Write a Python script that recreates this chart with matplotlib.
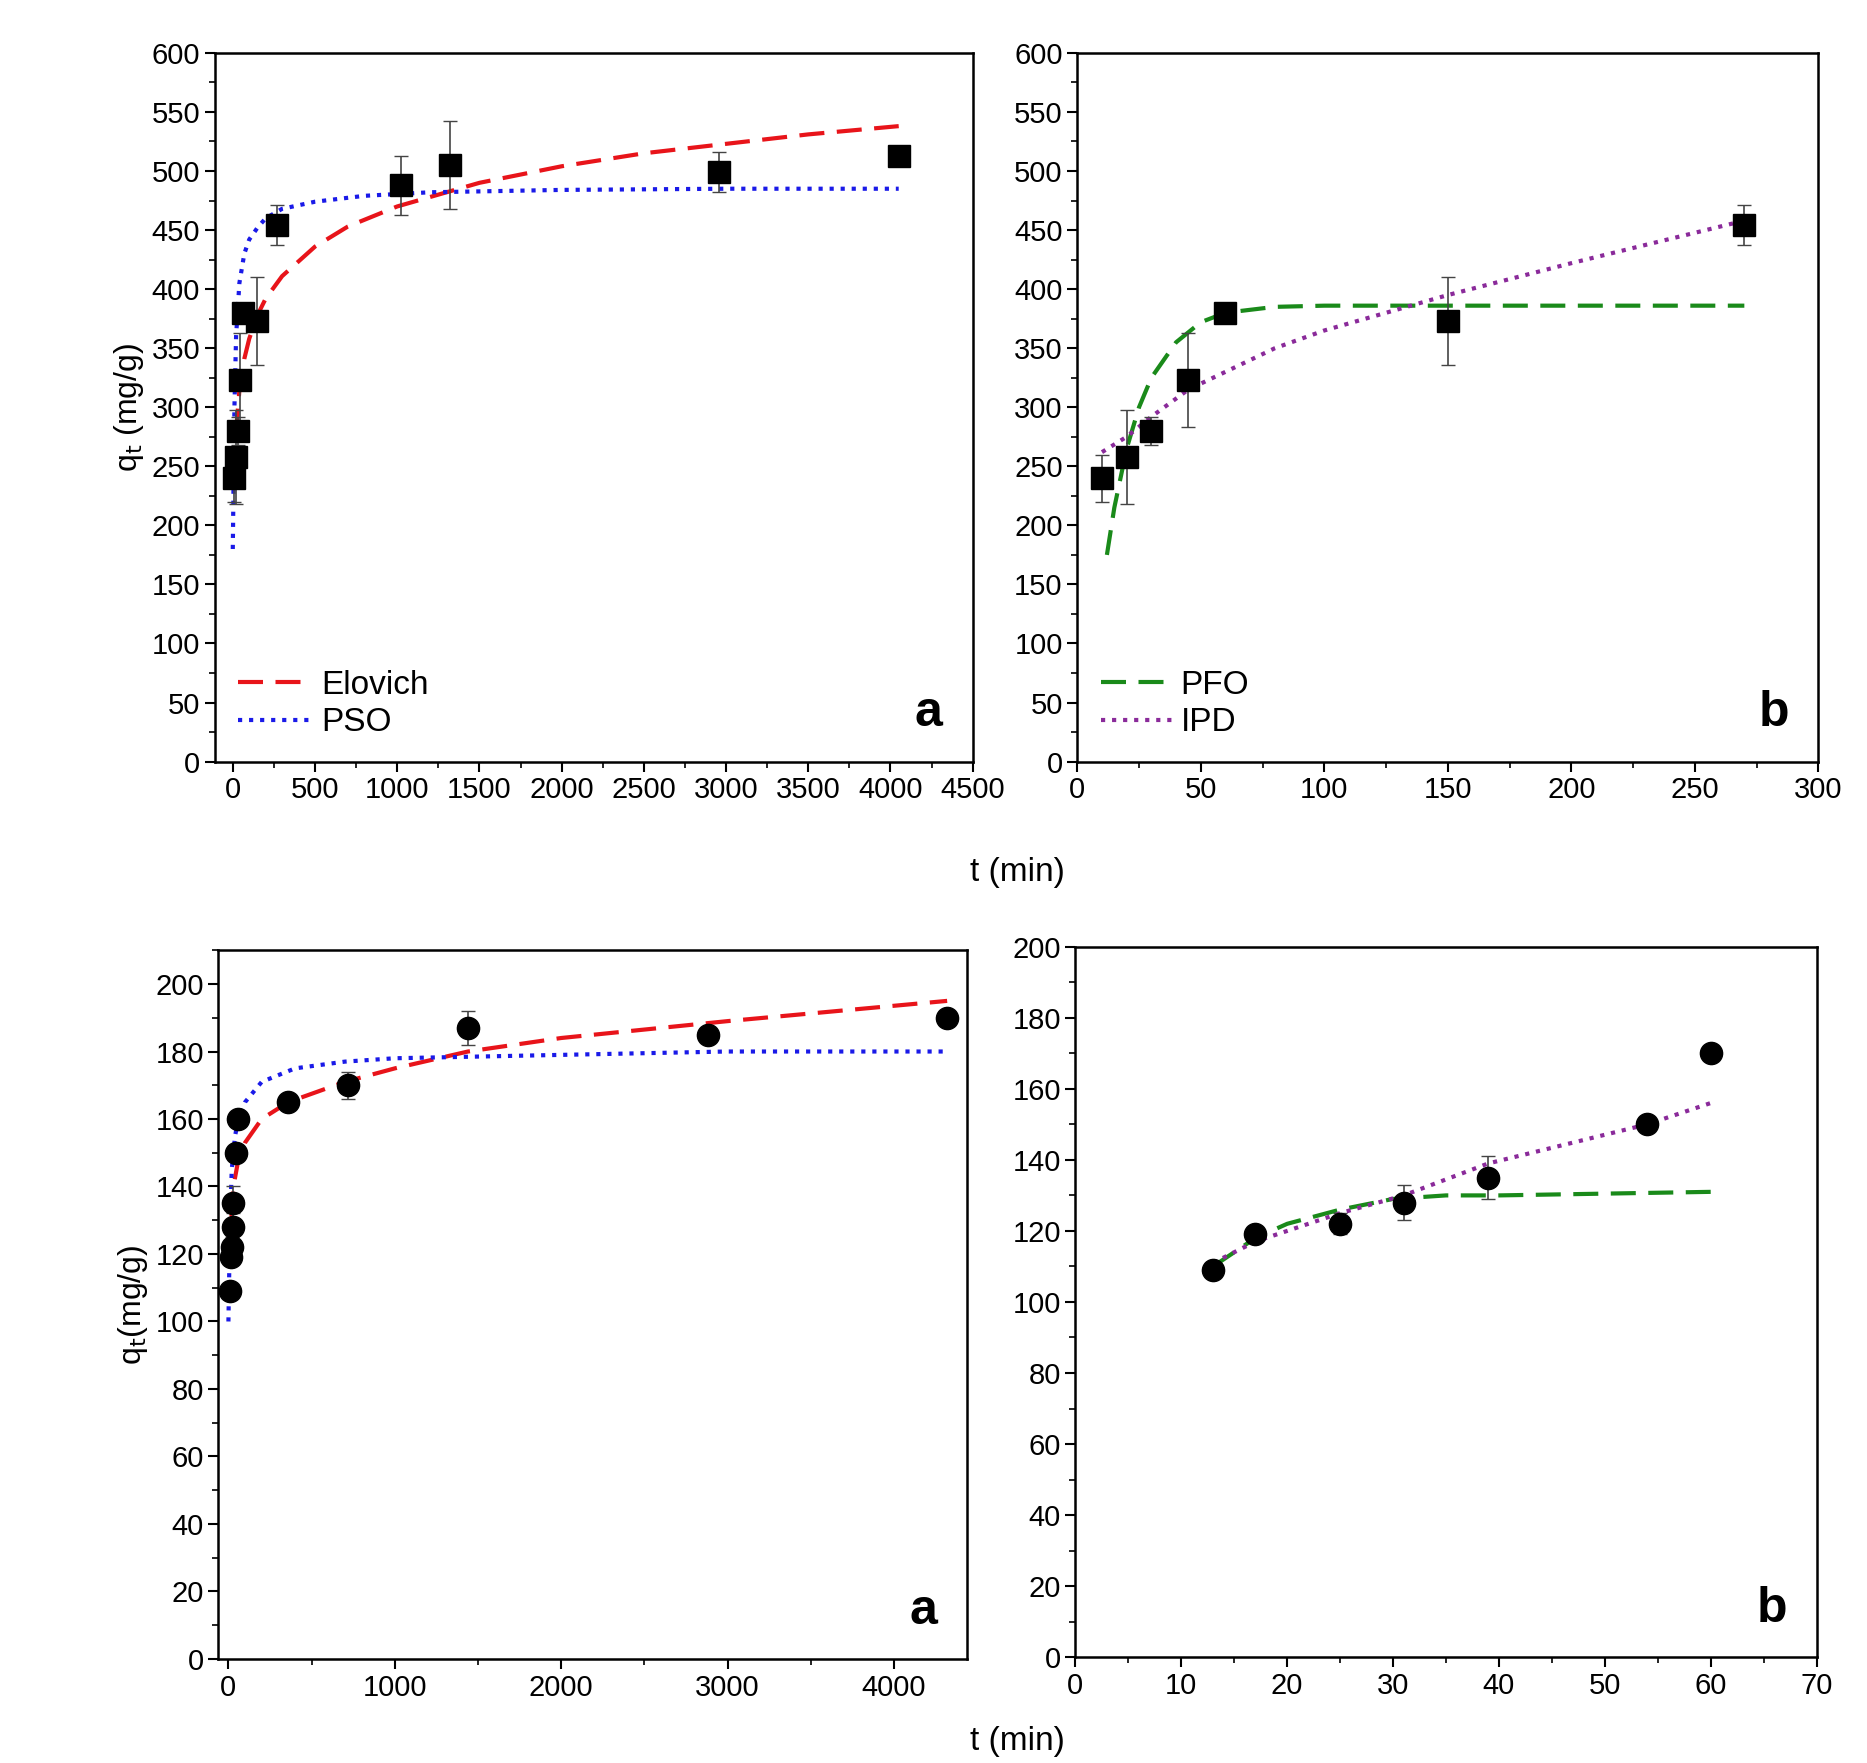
import numpy as np
import matplotlib.pyplot as plt
from matplotlib.ticker import MultipleLocator, AutoMinorLocator

# --- data ---
# top panels (squares)
t_sq = [10, 20, 30, 45, 60, 150, 270, 1020, 1320, 2960, 4050]
q_sq = [240, 258, 280, 323, 380, 373, 454, 488, 505, 499, 513]
e_sq = [20, 40, 12, 40, 5, 37, 17, 25, 37, 17, 5]

elo_top_t = [10, 20, 40, 70, 100, 150, 200, 300, 500, 700, 1000, 1500, 2000, 2500, 3000, 3500, 4050]
elo_top_q = [246, 280, 314, 341, 358, 378, 392, 411, 436, 453, 470, 490, 504, 515, 523, 531, 538]
pso_top_t = [0, 10, 20, 40, 70, 100, 150, 200, 300, 500, 800, 1200, 2000, 3000, 4050]
pso_top_q = [180, 300, 360, 405, 430, 442, 452, 460, 468, 474, 479, 482, 484, 485, 485]

pfo_top_t = [12, 15, 20, 25, 30, 40, 50, 60, 80, 100, 150, 200, 270]
pfo_top_q = [175, 215, 265, 300, 325, 355, 372, 380, 385, 386, 386, 386, 386]
ipd_top_t = [10, 20, 30, 45, 60, 80, 100, 150, 200, 270]
ipd_top_q = [262, 275, 292, 315, 330, 350, 365, 395, 422, 458]

# bottom panels (circles)
t_ci = [10, 15, 20, 25, 30, 45, 60, 360, 720, 1440, 2880, 4320]
q_ci = [109, 119, 122, 128, 135, 150, 160, 165, 170, 187, 185, 190]
e_ci = [0, 2, 3, 4, 5, 0, 0, 2, 4, 5, 0, 2]

elo_bot_t = [10, 20, 30, 60, 100, 200, 360, 700, 1000, 1440, 2000, 3000, 4320]
elo_bot_q = [120, 133, 140, 148, 153, 160, 165, 171, 175, 180, 184, 189, 195]
pso_bot_t = [0, 10, 20, 40, 60, 100, 200, 400, 700, 1000, 2000, 3000, 4320]
pso_bot_q = [100, 130, 145, 155, 160, 165, 171, 175, 177, 178, 179, 180, 180]

t_ci2 = [13, 17, 25, 31, 39, 54, 60]
q_ci2 = [109, 119, 122, 128, 135, 150, 170]
e_ci2 = [0, 0, 3, 5, 6, 0, 0]
pfo_bot_t = [13, 17, 20, 25, 30, 35, 40, 50, 60]
pfo_bot_q = [110, 118, 122, 126, 129, 130, 130, 130.5, 131]
ipd_bot_t = [13, 17, 25, 31, 39, 54, 60]
ipd_bot_q = [111, 117, 125, 130, 139, 150, 156]

plt.rcParams['font.family'] = ['Arial', 'Liberation Sans', 'DejaVu Sans']
fs = 21

fig = plt.figure(figsize=(18.67, 17.63), dpi=100)
ax1 = fig.add_axes([0.115, 0.568, 0.406, 0.402])
ax2 = fig.add_axes([0.577, 0.568, 0.397, 0.402])
ax3 = fig.add_axes([0.117, 0.059, 0.401, 0.402])
ax4 = fig.add_axes([0.576, 0.060, 0.397, 0.403])


def style(ax, xmaj, ymaj):
    ax.xaxis.set_major_locator(MultipleLocator(xmaj))
    ax.yaxis.set_major_locator(MultipleLocator(ymaj))
    ax.xaxis.set_minor_locator(AutoMinorLocator(2))
    ax.yaxis.set_minor_locator(AutoMinorLocator(2))
    ax.tick_params(which='major', direction='out', length=7, width=1.5, labelsize=fs)
    ax.tick_params(which='minor', direction='out', length=4, width=1.2)
    for s in ax.spines.values():
        s.set_linewidth(1.8)


def points(ax, t, q, e, marker):
    ax.errorbar(t, q, yerr=e, fmt=marker, color='black', ms=16, ecolor='#444444',
                elinewidth=1.2, capsize=5, zorder=5)


red, blue, green, purple = '#e8141a', '#1a1ae8', '#1a8a1a', '#8a2a9a'

ax1.plot(elo_top_t, elo_top_q, '--', color=red, lw=3, dashes=(6, 3), label='Elovich')
ax1.plot(pso_top_t, pso_top_q, ':', color=blue, lw=3, label='PSO')
points(ax1, t_sq, q_sq, e_sq, 's')
ax1.set_xlim(-110, 4500)
ax1.set_ylim(0, 600)
style(ax1, 500, 50)
ax1.set_ylabel(r'q$_\mathrm{t}$ (mg/g)', fontsize=fs + 2)
ax1.legend(loc='lower left', frameon=False, fontsize=fs + 3, handlelength=2.2,
           handletextpad=0.3, borderaxespad=0.3, labelspacing=0.2)
ax1.text(0.96, 0.05, 'a', transform=ax1.transAxes, fontsize=36, fontweight='bold', ha='right')

ax2.plot(pfo_top_t, pfo_top_q, '--', color=green, lw=3, dashes=(6, 3), label='PFO')
ax2.plot(ipd_top_t, ipd_top_q, ':', color=purple, lw=3, label='IPD')
points(ax2, t_sq[:7], q_sq[:7], e_sq[:7], 's')
ax2.set_xlim(0, 300)
ax2.set_ylim(0, 600)
style(ax2, 50, 50)
ax2.legend(loc='lower left', frameon=False, fontsize=fs + 3, handlelength=2.2,
           handletextpad=0.2, borderaxespad=0.3, labelspacing=0.2)
ax2.text(0.96, 0.05, 'b', transform=ax2.transAxes, fontsize=36, fontweight='bold', ha='right')

ax3.plot(elo_bot_t, elo_bot_q, '--', color=red, lw=3, dashes=(6, 3))
ax3.plot(pso_bot_t, pso_bot_q, ':', color=blue, lw=3)
points(ax3, t_ci, q_ci, e_ci, 'o')
ax3.set_xlim(-60, 4440)
ax3.set_ylim(0, 210)
style(ax3, 1000, 20)
ax3.set_ylabel(r'q$_\mathrm{t}$(mg/g)', fontsize=fs + 2)
ax3.text(0.96, 0.05, 'a', transform=ax3.transAxes, fontsize=36, fontweight='bold', ha='right')

ax4.plot(pfo_bot_t, pfo_bot_q, '--', color=green, lw=3, dashes=(6, 3))
ax4.plot(ipd_bot_t, ipd_bot_q, ':', color=purple, lw=3)
points(ax4, t_ci2, q_ci2, e_ci2, 'o')
ax4.set_xlim(0, 70)
ax4.set_ylim(0, 200)
style(ax4, 10, 20)
ax4.text(0.96, 0.05, 'b', transform=ax4.transAxes, fontsize=36, fontweight='bold', ha='right')

fig.text(0.545, 0.505, 't (min)', fontsize=fs + 3, ha='center', va='center')
fig.text(0.545, 0.012, 't (min)', fontsize=fs + 3, ha='center', va='center')

fig.savefig('out.png', dpi=100)
